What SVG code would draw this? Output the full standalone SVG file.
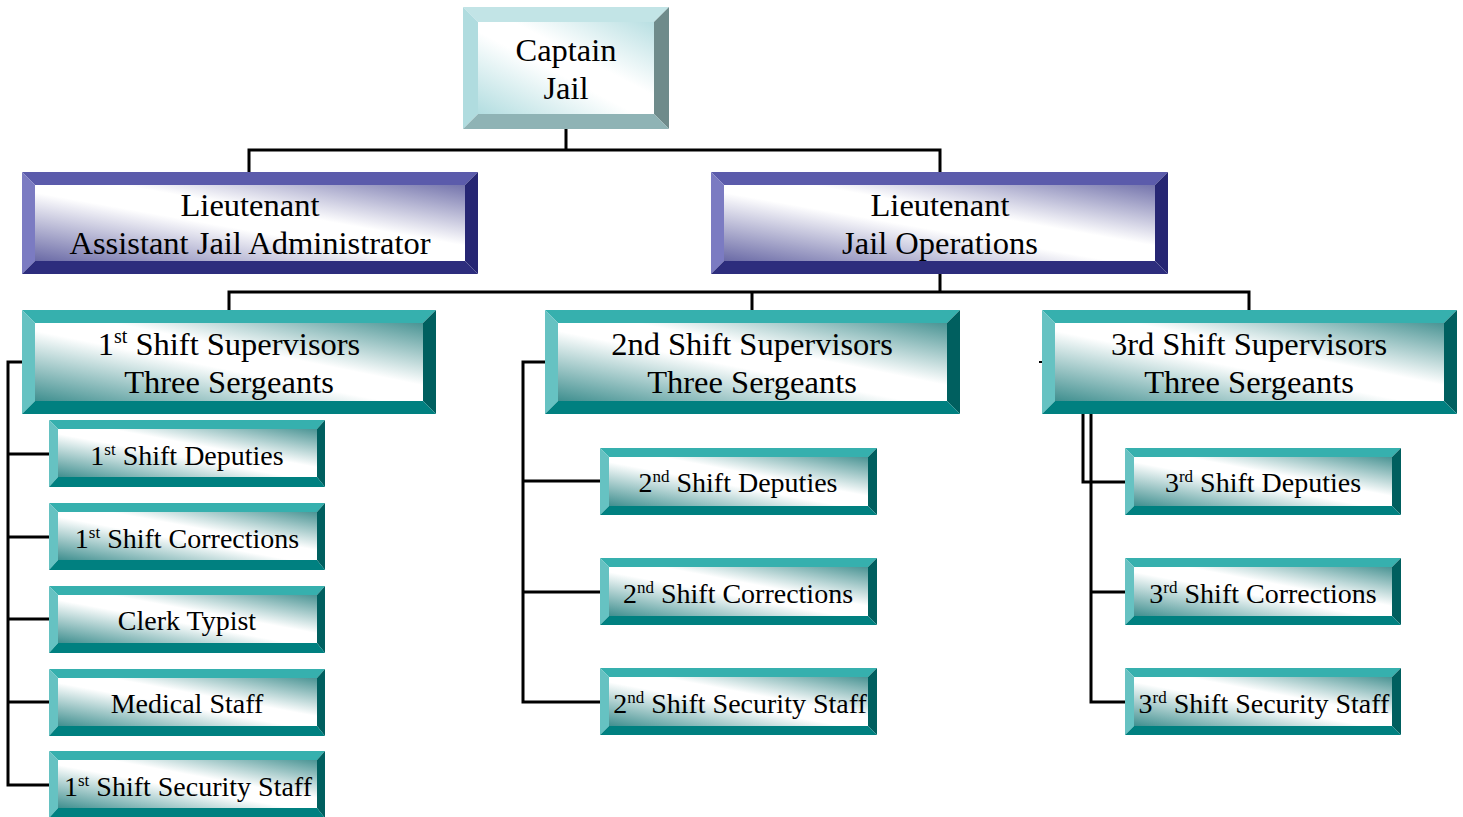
<svg xmlns="http://www.w3.org/2000/svg" width="1463" height="817" viewBox="0 0 1463 817">
<defs>
<linearGradient id="gTeal" x1="0" y1="1" x2="1" y2="0">
<stop offset="0" stop-color="#3f8f8f"/><stop offset="0.45" stop-color="#ffffff"/><stop offset="0.6" stop-color="#ffffff"/><stop offset="1" stop-color="#4a9494"/>
</linearGradient>
<linearGradient id="gPurple" x1="0" y1="1" x2="1" y2="0">
<stop offset="0" stop-color="#6a6aa6"/><stop offset="0.45" stop-color="#ffffff"/><stop offset="0.6" stop-color="#ffffff"/><stop offset="1" stop-color="#7474ac"/>
</linearGradient>
<linearGradient id="gCyan" x1="0" y1="1" x2="1" y2="0">
<stop offset="0" stop-color="#b2dde0"/><stop offset="0.45" stop-color="#ffffff"/><stop offset="0.6" stop-color="#ffffff"/><stop offset="1" stop-color="#b8dfe2"/>
</linearGradient>
</defs>
<style>
text{font-family:"Liberation Serif","Times New Roman",serif;fill:#000;text-anchor:middle}
.big{font-size:32.5px}
.sm{font-size:28px}
.ct{fill:#36b0ae}.cl{fill:#66c2c2}.cr{fill:#005f5f}.cb{fill:#008080}.ci{fill:url(#gTeal)}
.pt{fill:#5b5bab}.pl{fill:#7b7bc2}.pr{fill:#262673}.pb{fill:#2d2d7d}.pi{fill:url(#gPurple)}
.yt{fill:#c2e4e6}.yl{fill:#b0dcdf}.yr{fill:#6f8b8b}.yb{fill:#8fb3b5}.yi{fill:url(#gCyan)}
.conn{fill:none;stroke:#000;stroke-width:3}
</style>
<rect width="1463" height="817" fill="#fff"/>

<g id="connectors" class="conn">
<path d="M566 129V150M249 172V150H940V172"/>
<path d="M940 274V292M229 310V292H1249V310M752 292V310"/>
<path d="M22 362H8V785H49M8 454H49M8 537H49M8 619H49M8 702H49"/>
<path d="M545 362H523V702H600M523 481H600M523 592H600"/>
<path d="M1083 414V482H1125M1091 414V702H1125M1091 592H1125"/>
<path d="M1039 362H1043" stroke-width="2"/>
</g>

<g id="captain">
<polygon class="yt" points="463,7 669,7 654,22 478,22"/>
<polygon class="yl" points="463,7 478,22 478,114 463,129"/>
<polygon class="yr" points="669,7 669,129 654,114 654,22"/>
<polygon class="yb" points="463,129 478,114 654,114 669,129"/>
<rect class="yi" x="478" y="22" width="176" height="92"/>
<text class="big" x="566" y="61">Captain</text>
<text class="big" x="566" y="99">Jail</text>
</g>

<g id="lt-admin">
<polygon class="pt" points="22,172 478,172 465,185 35,185"/>
<polygon class="pl" points="22,172 35,185 35,261 22,274"/>
<polygon class="pr" points="478,172 478,274 465,261 465,185"/>
<polygon class="pb" points="22,274 35,261 465,261 478,274"/>
<rect class="pi" x="35" y="185" width="430" height="76"/>
<text class="big" x="250" y="216">Lieutenant</text>
<text class="big" x="250" y="254">Assistant Jail Administrator</text>
</g>

<g id="lt-ops">
<polygon class="pt" points="711,172 1168,172 1155,185 724,185"/>
<polygon class="pl" points="711,172 724,185 724,261 711,274"/>
<polygon class="pr" points="1168,172 1168,274 1155,261 1155,185"/>
<polygon class="pb" points="711,274 724,261 1155,261 1168,274"/>
<rect class="pi" x="724" y="185" width="431" height="76"/>
<text class="big" x="940" y="216">Lieutenant</text>
<text class="big" x="940" y="254">Jail Operations</text>
</g>

<g id="sup1">
<polygon class="ct" points="22,310 436,310 423,323 35,323"/>
<polygon class="cl" points="22,310 35,323 35,401 22,414"/>
<polygon class="cr" points="436,310 436,414 423,401 423,323"/>
<polygon class="cb" points="22,414 35,401 423,401 436,414"/>
<rect class="ci" x="35" y="323" width="388" height="78"/>
<text class="big" x="229" y="355">1<tspan font-size="20" dy="-12">st</tspan><tspan dy="12"> Shift Supervisors</tspan></text>
<text class="big" x="229" y="393">Three Sergeants</text>
</g>

<g id="sup2">
<polygon class="ct" points="545,310 960,310 947,323 558,323"/>
<polygon class="cl" points="545,310 558,323 558,401 545,414"/>
<polygon class="cr" points="960,310 960,414 947,401 947,323"/>
<polygon class="cb" points="545,414 558,401 947,401 960,414"/>
<rect class="ci" x="558" y="323" width="389" height="78"/>
<text class="big" x="752" y="355">2nd Shift Supervisors</text>
<text class="big" x="752" y="393">Three Sergeants</text>
</g>

<g id="sup3">
<polygon class="ct" points="1042,310 1457,310 1444,323 1055,323"/>
<polygon class="cl" points="1042,310 1055,323 1055,401 1042,414"/>
<polygon class="cr" points="1457,310 1457,414 1444,401 1444,323"/>
<polygon class="cb" points="1042,414 1055,401 1444,401 1457,414"/>
<rect class="ci" x="1055" y="323" width="389" height="78"/>
<text class="big" x="1249" y="355">3rd Shift Supervisors</text>
<text class="big" x="1249" y="393">Three Sergeants</text>
</g>

<!-- column 1 -->
<g id="dep1">
<polygon class="ct" points="49,420 325,420 317,429 58,429"/>
<polygon class="cl" points="49,420 58,429 58,477 49,487"/>
<polygon class="cr" points="325,420 325,487 317,477 317,429"/>
<polygon class="cb" points="49,487 58,477 317,477 325,487"/>
<rect class="ci" x="58" y="429" width="259" height="48"/>
<text class="sm" x="187" y="465">1<tspan font-size="17" dy="-10">st</tspan><tspan dy="10"> Shift Deputies</tspan></text>
</g>
<g id="cor1">
<polygon class="ct" points="49,503 325,503 317,512 58,512"/>
<polygon class="cl" points="49,503 58,512 58,560 49,570"/>
<polygon class="cr" points="325,503 325,570 317,560 317,512"/>
<polygon class="cb" points="49,570 58,560 317,560 325,570"/>
<rect class="ci" x="58" y="512" width="259" height="48"/>
<text class="sm" x="187" y="548">1<tspan font-size="17" dy="-10">st</tspan><tspan dy="10"> Shift Corrections</tspan></text>
</g>
<g id="clerk">
<polygon class="ct" points="49,586 325,586 317,595 58,595"/>
<polygon class="cl" points="49,586 58,595 58,643 49,653"/>
<polygon class="cr" points="325,586 325,653 317,643 317,595"/>
<polygon class="cb" points="49,653 58,643 317,643 325,653"/>
<rect class="ci" x="58" y="595" width="259" height="48"/>
<text class="sm" x="187" y="630">Clerk Typist</text>
</g>
<g id="medical">
<polygon class="ct" points="49,669 325,669 317,678 58,678"/>
<polygon class="cl" points="49,669 58,678 58,726 49,736"/>
<polygon class="cr" points="325,669 325,736 317,726 317,678"/>
<polygon class="cb" points="49,736 58,726 317,726 325,736"/>
<rect class="ci" x="58" y="678" width="259" height="48"/>
<text class="sm" x="187" y="713">Medical Staff</text>
</g>
<g id="sec1">
<polygon class="ct" points="49,751 325,751 317,760 58,760"/>
<polygon class="cl" points="49,751 58,760 58,808 49,818"/>
<polygon class="cr" points="325,751 325,818 317,808 317,760"/>
<polygon class="cb" points="49,818 58,808 317,808 325,818"/>
<rect class="ci" x="58" y="760" width="259" height="48"/>
<text class="sm" x="188" y="796">1<tspan font-size="17" dy="-10">st</tspan><tspan dy="10"> Shift Security Staff</tspan></text>
</g>

<!-- column 2 -->
<g id="dep2">
<polygon class="ct" points="600,448 877,448 868,457 609,457"/>
<polygon class="cl" points="600,448 609,457 609,506 600,515"/>
<polygon class="cr" points="877,448 877,515 868,506 868,457"/>
<polygon class="cb" points="600,515 609,506 868,506 877,515"/>
<rect class="ci" x="609" y="457" width="259" height="49"/>
<text class="sm" x="738" y="492">2<tspan font-size="17" dy="-10">nd</tspan><tspan dy="10"> Shift Deputies</tspan></text>
</g>
<g id="cor2">
<polygon class="ct" points="600,558 877,558 868,567 609,567"/>
<polygon class="cl" points="600,558 609,567 609,616 600,625"/>
<polygon class="cr" points="877,558 877,625 868,616 868,567"/>
<polygon class="cb" points="600,625 609,616 868,616 877,625"/>
<rect class="ci" x="609" y="567" width="259" height="49"/>
<text class="sm" x="738" y="603">2<tspan font-size="17" dy="-10">nd</tspan><tspan dy="10"> Shift Corrections</tspan></text>
</g>
<g id="sec2">
<polygon class="ct" points="600,668 877,668 868,677 609,677"/>
<polygon class="cl" points="600,668 609,677 609,726 600,735"/>
<polygon class="cr" points="877,668 877,735 868,726 868,677"/>
<polygon class="cb" points="600,735 609,726 868,726 877,735"/>
<rect class="ci" x="609" y="677" width="259" height="49"/>
<text class="sm" x="740" y="713">2<tspan font-size="17" dy="-10">nd</tspan><tspan dy="10"> Shift Security Staff</tspan></text>
</g>

<!-- column 3 -->
<g id="dep3">
<polygon class="ct" points="1125,448 1401,448 1392,457 1134,457"/>
<polygon class="cl" points="1125,448 1134,457 1134,506 1125,515"/>
<polygon class="cr" points="1401,448 1401,515 1392,506 1392,457"/>
<polygon class="cb" points="1125,515 1134,506 1392,506 1401,515"/>
<rect class="ci" x="1134" y="457" width="258" height="49"/>
<text class="sm" x="1263" y="492">3<tspan font-size="17" dy="-10">rd</tspan><tspan dy="10"> Shift Deputies</tspan></text>
</g>
<g id="cor3">
<polygon class="ct" points="1125,558 1401,558 1392,567 1134,567"/>
<polygon class="cl" points="1125,558 1134,567 1134,616 1125,625"/>
<polygon class="cr" points="1401,558 1401,625 1392,616 1392,567"/>
<polygon class="cb" points="1125,625 1134,616 1392,616 1401,625"/>
<rect class="ci" x="1134" y="567" width="258" height="49"/>
<text class="sm" x="1263" y="603">3<tspan font-size="17" dy="-10">rd</tspan><tspan dy="10"> Shift Corrections</tspan></text>
</g>
<g id="sec3">
<polygon class="ct" points="1125,668 1401,668 1392,677 1134,677"/>
<polygon class="cl" points="1125,668 1134,677 1134,726 1125,735"/>
<polygon class="cr" points="1401,668 1401,735 1392,726 1392,677"/>
<polygon class="cb" points="1125,735 1134,726 1392,726 1401,735"/>
<rect class="ci" x="1134" y="677" width="258" height="49"/>
<text class="sm" x="1264" y="713">3<tspan font-size="17" dy="-10">rd</tspan><tspan dy="10"> Shift Security Staff</tspan></text>
</g>
</svg>
